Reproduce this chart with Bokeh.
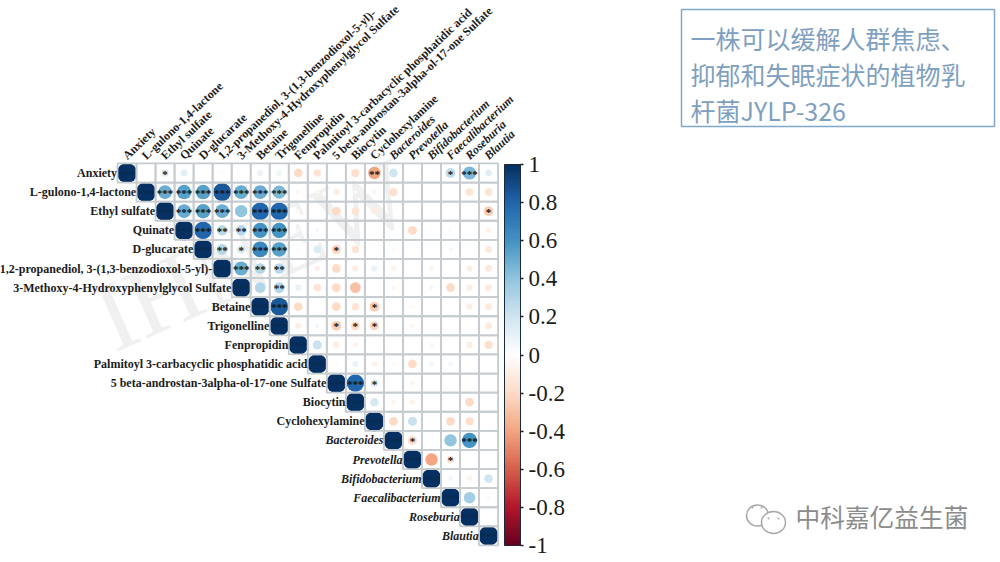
from bokeh.plotting import figure
from bokeh.models import Range1d, ColorBar, LinearColorMapper, FixedTicker, ColumnDataSource, AllLabels
from bokeh.core.properties import value
from bokeh.transform import transform
from bokeh.embed import file_html
from bokeh.resources import INLINE

metabolites = ["Anxiety", "L-gulono-1,4-lactone", "Ethyl sulfate", "Quinate", "D-glucarate",
               "1,2-propanediol, 3-(1,3-benzodioxol-5-yl)-", "3-Methoxy-4-Hydroxyphenylglycol Sulfate",
               "Betaine", "Trigonelline", "Fenpropidin", "Palmitoyl 3-carbacyclic phosphatidic acid",
               "5 beta-androstan-3alpha-ol-17-one Sulfate", "Biocytin", "Cyclohexylamine"]
bacteria = ["Bacteroides", "Prevotella", "Bifidobacterium", "Faecalibacterium", "Roseburia", "Blautia"]

# upper triangle of the correlation matrix, each row starts on the diagonal
r00 = [1, .02, .15, .12, 0, .03, .02, .1, .08, -.2, -.15, -.02, -.18, -.4, .2, 0, .01, .25, .45, .12]
r01 = [1, .5, .55, .55, .85, .5, .5, .45, -.05, -.05, -.1, -.03, .06, -.18, 0, .01, 0, -.15, -.15]
r02 = [1, .5, .55, .5, .4, .8, .8, -.05, 0, -.2, -.15, -.1, 0, 0, -.03, 0, -.01, -.25]
r03 = [1, .8, .28, .28, .6, .6, -.02, .05, 0, 0, -.01, 0, -.2, -.02, .03, 0, -.08]
r04 = [1, .3, .18, .65, .55, -.03, .15, -.22, -.15, -.01, -.04, -.02, -.01, .05, .02, -.12]
r05 = [1, .5, .3, .28, 0, -.08, -.2, -.1, .1, -.07, -.02, -.06, 0, -.1, -.12]
r06 = [1, .3, .3, .1, -.15, -.2, -.3, 0, -.05, -.02, .05, -.2, -.1, -.12]
r07 = [1, .85, -.2, -.02, -.2, -.15, -.25, -.02, -.04, -.01, 0, -.1, -.12]
r08 = [1, -.1, .06, -.25, -.2, -.22, -.01, -.05, 0, 0, -.02, -.12]
r09 = [1, .22, -.1, -.07, -.02, -.01, -.02, -.05, 0, -.1, -.18]
r10 = [1, .03, .1, -.08, -.03, -.2, .06, .05, 0, 0]
r11 = [1, .8, .15, 0, -.06, -.02, -.01, -.01, 0]
r12 = [1, .18, -.06, -.07, -.02, .02, -.2, -.02]
r13 = [1, -.2, .22, -.02, -.2, -.18, -.01]
r14 = [1, -.2, 0, .4, .6, 0]
r15 = [1, -.4, -.15, 0, -.02]
r16 = [1, .06, -.07, .2]
r17 = [1, .35, .04]
r18 = [1, .02]
r19 = [1]
rows = [r00, r01, r02, r03, r04, r05, r06, r07, r08, r09, r10, r11, r12, r13, r14, r15, r16, r17, r18, r19]

# significance: row, column, number of stars (off-diagonal)
star_row = [0, 0, 0, 0, 1, 1, 1, 1, 1, 1, 1, 2, 2, 2, 2, 2, 2, 3, 3, 3, 3, 3, 4, 4, 4, 4, 4, 5, 5, 5, 6, 7, 7, 8, 8, 8, 11, 11, 14, 14, 15]
star_col = [2, 13, 17, 18, 2, 3, 4, 5, 6, 7, 8, 3, 4, 5, 7, 8, 19, 4, 5, 6, 7, 8, 5, 6, 7, 8, 11, 6, 7, 8, 8, 8, 13, 11, 12, 13, 12, 13, 15, 18, 17]
star_num = [1, 2, 1, 3, 3, 3, 3, 3, 3, 3, 3, 3, 3, 3, 3, 3, 1, 3, 2, 2, 3, 3, 2, 1, 3, 3, 1, 3, 2, 2, 2, 3, 1, 1, 1, 1, 3, 1, 1, 3, 1]

colorbar_ticks = [1, .8, .6, .4, .2, 0, -.2, -.4, -.6, -.8, -1]
colorbar_labels = ["1", "0.8", "0.6", "0.4", "0.2", "0", "-0.2", "-0.4", "-0.6", "-0.8", "-1"]

box_lines = ["一株可以缓解人群焦虑、", "抑郁和失眠症状的植物乳", "杆菌JYLP-326"]
brand = "中科嘉亿益生菌"
watermark = "IHNEW"

STOPS = ["#67001F", "#B2182B", "#D6604D", "#F4A582", "#FDDBC7", "#FFFFFF",
         "#D1E5F0", "#92C5DE", "#4393C3", "#2166AC", "#053061"]


def ramp(stops, n):
    rgb = [tuple(int(s[k:k + 2], 16) for k in (1, 3, 5)) for s in stops]
    out = []
    for i in range(n):
        t = i / (n - 1) * (len(rgb) - 1)
        a = min(int(t), len(rgb) - 2)
        f = t - a
        out.append("#%02x%02x%02x" % tuple(round(rgb[a][c] * (1 - f) + rgb[a + 1][c] * f) for c in range(3)))
    return out


mapper = LinearColorMapper(palette=ramp(STOPS, 201), low=-1, high=1)

CX, CY, SX, SY = 126.5, 172.5, 19.03, 19.1
W, H = 1000, 562
p = figure(width=W, height=H, output_backend="svg", toolbar_location=None,
           x_axis_type=None, y_axis_type=None, min_border=0, outline_line_color=None,
           x_range=Range1d(-CX / SX, (W - CX) / SX),
           y_range=Range1d((H - CY) / SY, -CY / SY))
p.grid.visible = False
p.extra_x_ranges["px"] = Range1d(0, W)
p.extra_y_ranges["px"] = Range1d(H, 0)
PX = dict(x_range_name="px", y_range_name="px")

# watermark behind the matrix
p.text(x=[100], y=[322], text=[watermark], angle=[24], angle_units="deg", text_color="#f0f0f0",
       text_font=value("Liberation Serif"), text_font_size="100px", text_baseline="alphabetic", **PX)

xs, ys, vals = [], [], []
for i, row in enumerate(rows):
    for k, v in enumerate(row):
        xs.append(i + k); ys.append(i); vals.append(v)
rad = [0.53 if a == b else 0.515 * abs(v) ** 0.5 for a, b, v in zip(xs, ys, vals)]
src = ColumnDataSource(dict(x=xs, y=ys, r=vals, rad=rad))

p.circle(x="x", y="y", radius="rad", source=src, line_color=None,
         fill_color=transform("r", mapper))
p.rect(x="x", y="y", width=1, height=1, source=src, fill_color=None,
       line_color="#c6cbd0", line_width=1.8)

# stars
n = len(rows)
sx = star_col + list(range(n))
sy = star_row + list(range(n))
st = ["*" * k for k in star_num] + ["***"] * n
sc = ["#111111"] * len(star_num) + ["#0a2a50"] * n
p.text(x=sx, y=sy, text=st, text_color=sc, text_align="center", text_baseline="middle", y_offset=0.5,
       text_font=value("Liberation Serif"), text_font_style="bold", text_font_size="11px")

# row and column labels
nm, nb = len(metabolites), len(bacteria)
idx_m, idx_b = list(range(nm)), [nm + i for i in range(nb)]
common = dict(text_color="#1c1c1c", text_font=value("Liberation Serif"))
p.text(x=[i - .52 for i in idx_m], y=idx_m, text=metabolites, text_align="right", text_baseline="middle",
       text_font_style="bold", text_font_size="12px", **common)
p.text(x=[i - .52 for i in idx_b], y=idx_b, text=bacteria, text_align="right", text_baseline="middle",
       text_font_style="bold italic", text_font_size="12px", **common)
p.text(x=[i - .12 for i in idx_m], y=[-.82] * nm, text=metabolites, angle=43.5, angle_units="deg",
       text_align="left", text_baseline="middle", text_font_style="bold", text_font_size="12px", **common)
p.text(x=[i - .12 for i in idx_b], y=[-.82] * nb, text=bacteria, angle=43.5, angle_units="deg",
       text_align="left", text_baseline="middle", text_font_style="bold italic", text_font_size="12px", **common)

cb = ColorBar(color_mapper=mapper, ticker=FixedTicker(ticks=colorbar_ticks),
              major_label_overrides=dict(zip(colorbar_ticks, colorbar_labels)),
              major_label_policy=AllLabels(),
              width=16, height=381, location=(504, 17), padding=0, margin=0,
              background_fill_alpha=0, border_line_color=None, bar_line_color="#1a2a3a", bar_line_width=1,
              major_tick_in=0, major_tick_out=3, major_tick_line_color="#222222", major_tick_line_width=1.5,
              minor_tick_line_color=None, label_standoff=5,
              major_label_text_font="Liberation Serif", major_label_text_font_size="23px",
              major_label_text_color="#1c1c1c")
p.add_layout(cb, "center")

# title box
p.quad(left=[681], right=[994], top=[9], bottom=[126], fill_color="#ffffff", line_color="#7fa8c9", line_width=1.5, **PX)
p.text(x=[690] * 3, y=[37, 73, 109], text=box_lines, text_color="#7f9fc0", text_baseline="middle",
       text_font=value("Noto Sans CJK SC"), text_font_size="25px", **PX)

# brand mark
p.ellipse(x=[757, 773], y=[515, 522], width=[22, 24], height=[21, 22], fill_color="#ffffff",
          line_color="#a8a8a8", line_width=1.5, **PX)
p.circle(x=[752, 761, 768, 778], y=[507, 507, 518, 518], radius=1, fill_color="#a8a8a8", line_color=None, **PX)
p.text(x=[795], y=[515], text=[brand], text_color="#8c8c8c", text_baseline="middle",
       text_font=value("Noto Sans CJK SC"), text_font_size="24.7px", **PX)

open("out.html", "w").write(file_html(p, INLINE))
